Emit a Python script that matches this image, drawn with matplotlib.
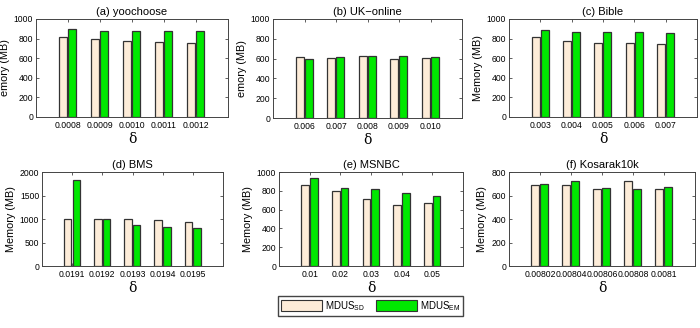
import numpy as np
import matplotlib
matplotlib.use('Agg')
import matplotlib.pyplot as plt
from matplotlib.patches import Patch

plt.rcParams['font.family'] = ['Liberation Sans', 'DejaVu Sans']
plt.rcParams['mathtext.fontset'] = 'custom'
plt.rcParams['mathtext.rm'] = 'Liberation Sans'
plt.rcParams['mathtext.it'] = 'Liberation Sans'

# data
titles = ['(a) yoochoose', '(b) UK\u2212online', '(c) Bible',
          '(d) BMS', '(e) MSNBC', '(f) Kosarak10k']
ticklabels = [
    ['0.0008', '0.0009', '0.0010', '0.0011', '0.0012'],
    ['0.006', '0.007', '0.008', '0.009', '0.010'],
    ['0.003', '0.004', '0.005', '0.006', '0.007'],
    ['0.0191', '0.0192', '0.0193', '0.0194', '0.0195'],
    ['0.01', '0.02', '0.03', '0.04', '0.05'],
    ['0.00802', '0.00804', '0.00806', '0.00808', '0.0081'],
]
mdus_sd = [
    [820, 800, 780, 770, 760],
    [620, 610, 630, 600, 610],
    [820, 780, 760, 755, 745],
    [1010, 1000, 1000, 980, 930],
    [860, 795, 715, 645, 665],
    [686, 690, 656, 724, 656],
]
mdus_em = [
    [900, 880, 880, 880, 880],
    [600, 620, 630, 630, 620],
    [890, 870, 865, 867, 860],
    [1840, 1000, 870, 830, 810],
    [935, 830, 815, 772, 743],
    [700, 725, 664, 653, 669],
]
ylims = [1000, 1000, 1000, 2000, 1000, 800]
ysteps = [200, 200, 200, 500, 200, 200]
ylabels = ['emory (MB)', 'emory (MB)', 'Memory (MB)',
           'Memory (MB)', 'Memory (MB)', 'Memory (MB)']

# axes boxes in pixels: left, right, top, bottom
boxes = [(36, 228, 19, 117), (273, 462, 19, 118), (509, 697, 19, 117),
         (42, 223, 172, 266), (279, 463, 172, 266), (509, 695, 172, 266)]

W, H = 700, 328
c_sd = '#fdecd8'
c_em = '#00e800'
edge = '#333333'

fig = plt.figure(figsize=(7, 3.28), dpi=100)

for i in range(6):
    l, r, t, b = boxes[i]
    ax = fig.add_axes([l / W, 1 - b / H, (r - l) / W, (b - t) / H])
    x = np.arange(1, 6)
    ax.bar(x - 0.15, mdus_sd[i], 0.25, color=c_sd, edgecolor=edge, linewidth=0.9)
    ax.bar(x + 0.14, mdus_em[i], 0.25, color=c_em, edgecolor=edge, linewidth=0.9)
    ax.set_xlim(0, 6)
    ax.set_ylim(0, ylims[i])
    ax.set_xticks(x)
    ax.set_xticklabels(ticklabels[i], fontsize=6.2)
    ax.set_yticks(np.arange(0, ylims[i] + 1, ysteps[i]))
    ax.tick_params(axis='y', labelsize=6.2, pad=2)
    ax.tick_params(direction='in', length=2.5, width=0.6, top=True, right=True,
                   color='#444444')
    ax.tick_params(axis='x', pad=3)
    for s in ax.spines.values():
        s.set_linewidth(0.7)
        s.set_color('#444444')
    ax.set_title(titles[i], fontsize=8, pad=3)
    ax.set_ylabel(ylabels[i], fontsize=7.8, labelpad=3)
    ax.set_xlabel('\u03b4', fontsize=10, family='DejaVu Serif', labelpad=1)

handles = [Patch(facecolor=c_sd, edgecolor=edge, linewidth=0.8),
           Patch(facecolor=c_em, edgecolor=edge, linewidth=0.8)]
fig.legend(handles, ['MDUS$_{\\mathrm{SD}}$', 'MDUS$_{\\mathrm{EM}}$'],
           loc='center', bbox_to_anchor=((283 + 458) / 2 / W, 1 - 306 / H),
           ncol=2, fontsize=7, handlelength=4.2, handleheight=1.4,
           columnspacing=1.2, handletextpad=0.3, fancybox=False,
           edgecolor='#444444', framealpha=1, borderpad=0.3)

fig.savefig('out.png', dpi=100)
